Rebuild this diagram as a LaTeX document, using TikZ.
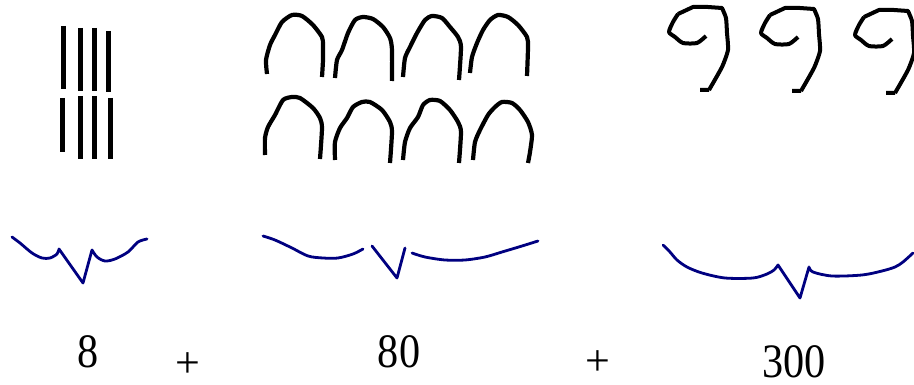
\documentclass[tikz,border=0pt]{standalone}
\usepackage{fontspec}
\setmainfont{Liberation Serif}
\definecolor{bracenavy}{HTML}{000080}
\tikzset{
  tally/.style={line width=5pt, line cap=butt},
  arch/.style={line width=4.2pt, line join=round, line cap=butt},
  nine/.style={line width=4pt, line join=round, line cap=butt},
  brace/.style={bracenavy, line width=2.8pt, line join=round, line cap=round},
  numtext/.style={anchor=base, inner sep=0pt, xscale=0.88, font=\fontsize{48}{48}\selectfont},
  plustext/.style={anchor=center, inner sep=0pt, font=\fontsize{44}{44}\selectfont},
}
\begin{document}
\begin{tikzpicture}[x=1pt,y=-1pt]
\useasboundingbox (0,0) rectangle (914,385);
% tallies
\draw[tally] (63.5,26) -- (63.5,89);
\draw[tally] (80.5,28) -- (80.5,91);
\draw[tally] (94.5,28) -- (94.5,91);
\draw[tally] (108.5,31) -- (108.5,92);
\draw[tally] (62.5,98) -- (62.5,152);
\draw[tally] (80.5,96) -- (80.5,159);
\draw[tally] (94.5,96) -- (94.5,159);
\draw[tally] (110.5,98) -- (110.5,159);
% arches, top row
\draw[arch] plot[smooth,tension=0.4] coordinates {(267,74) (266,60) (270,45) (275,35) (282,22) (292,15) (302,16) (313,25) (322,37) (323,45) (323,60) (322,77)};
\draw[arch] plot[smooth,tension=0.4] coordinates {(335,78) (337,60) (342,50) (348,33) (355,20) (363,17) (373,19) (383,27) (390,38) (392,50) (392,81)};
\draw[arch] plot[smooth,tension=0.4] coordinates {(403,77) (405,58) (410,47) (417,33) (425,20) (432,16) (442,18) (450,27) (458,37) (461,47) (459,80)};
\draw[arch] plot[smooth,tension=0.4] coordinates {(470,73) (472,57) (477,43) (483,30) (490,20) (498,15) (508,17) (518,25) (527,37) (528,47) (527,76)};
% arches, bottom row
\draw[arch] plot[smooth,tension=0.4] coordinates {(265,155) (265,138) (268,127) (275,115) (283,100) (292,97) (300,98) (313,108) (320,118) (322,128) (320,159)};
\draw[arch] plot[smooth,tension=0.4] coordinates {(335,160) (335,142) (340,128) (347,118) (353,107) (362,102) (370,102) (382,110) (390,122) (392,132) (390,163)};
\draw[arch] plot[smooth,tension=0.4] coordinates {(403,160) (405,142) (410,128) (418,117) (423,105) (430,100) (440,101) (450,110) (458,122) (461,132) (459,163)};
\draw[arch] plot[smooth,tension=0.4] coordinates {(473,160) (475,142) (480,130) (488,115) (495,107) (502,102) (512,103) (520,110) (528,122) (532,135) (530,152) (528,163)};
% nines
\foreach \dx/\dy [count=\i] in {0/0, 92/1, 186/3}{
  \draw[nine, shift={(\dx,\dy)}] (700,90) -- (709,90)
    plot[smooth,tension=0.35] coordinates {(709,90) (722,67) (728,50) (727,33) (726,18) (722,8)}
    -- (708,7) -- (693,7) -- (678,14)
    plot[smooth,tension=0.4] coordinates {(678,14) (673,22) (669,32) (675,37) (683,43) (697,43) (706,36)};
}
% braces
\draw[brace] plot[smooth,tension=0.5] coordinates {(12,237) (20,243) (32,253) (42,258) (50,258) (57,254) (59,249)} -- (83,283) -- (92,250)
  plot[smooth,tension=0.5] coordinates {(92,250) (97,257) (105,261) (115,259) (128,252) (138,242) (147,239)};
\draw[brace] plot[smooth,tension=0.5] coordinates {(263,236) (275,240) (292,248) (308,256) (323,258) (338,258) (353,254) (363,249)};
\draw[brace] (372,246) -- (397,278) -- (405,248);
\draw[brace] plot[smooth,tension=0.5] coordinates {(412,253) (425,257) (445,260) (465,260) (485,257) (502,252) (522,246) (538,241)};
\draw[brace] plot[smooth,tension=0.5] coordinates {(663,245) (670,252) (677,260) (687,267) (702,273) (725,278) (753,278) (767,274) (774,270) (778,265)} -- (800,298) -- (809,267)
  plot[smooth,tension=0.5] coordinates {(809,267) (813,272) (832,276) (862,275) (882,271) (895,267) (903,262) (913,253)};
% labels
\node[numtext] (n8) at (88,367) {8};
\node[plustext] (p1) at (188,365) {+};
\node[numtext] (n80) at (399,367) {80};
\node[plustext] (p2) at (598,363) {+};
\node[numtext] (n300) at (794,377) {300};
\end{tikzpicture}
\end{document}
